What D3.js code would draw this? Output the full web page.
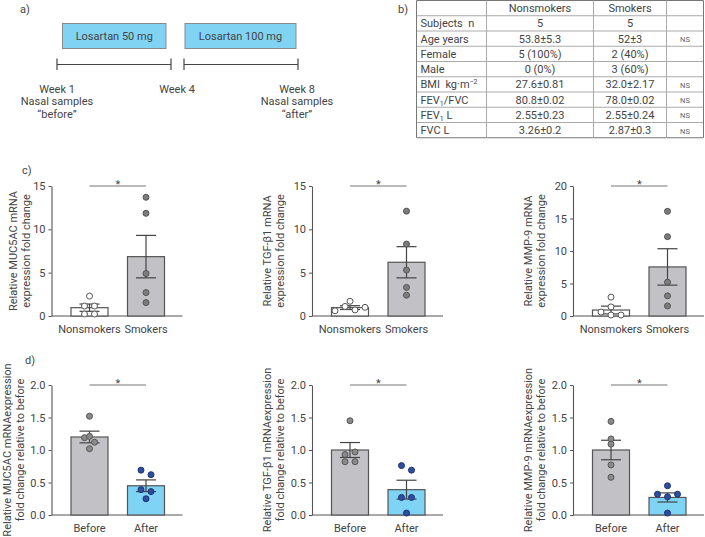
<!DOCTYPE html>
<html><head><meta charset="utf-8">
<script src="https://cdn.jsdelivr.net/npm/d3@7"></script>
<style>
body{margin:0;background:#fff;}
svg{display:block;font-family:Roboto,"Noto Sans",sans-serif;}
</style></head><body>
<svg id="c" width="705" height="537"></svg>
<script>
// ---------------- DATA ----------------
// panel a: timeline
const timelineWeeks = ["Week 1", "Week 4", "Week 8"];
const timelineSubLabels = [["Nasal samples", "\u201cbefore\u201d"], [], ["Nasal samples", "\u201cafter\u201d"]];
const treatments = ["Losartan 50 mg", "Losartan 100 mg"];

// panel b: table
const tableHeader = ["", "Nonsmokers", "Smokers", ""];
const tableRowLabels = ["Subjects  n", "Age years", "Female", "Male", "BMI  kg\u00b7m^\u22122", "FEV_1/FVC", "FEV_1 L", "FVC L"];
const tableNonsmokers = ["5", "53.8\u00b15.3", "5 (100%)", "0 (0%)", "27.6\u00b10.81", "80.8\u00b10.02", "2.55\u00b10.23", "3.26\u00b10.2"];
const tableSmokers = ["5", "52\u00b13", "2 (40%)", "3 (60%)", "32.0\u00b12.17", "78.0\u00b10.02", "2.55\u00b10.24", "2.87\u00b10.3"];
const tableSignificance = ["", "NS", "", "", "NS", "NS", "NS", "NS"];

// panels c, d: categories
const groupsSmoking = ["Nonsmokers", "Smokers"];
const groupsTreatment = ["Before", "After"];

// c) smokers vs nonsmokers
const muc5acSmokingMean = [0.96, 6.85];
const muc5acSmokingSem = [0.42, 2.45];
const muc5acSmokingPoints = [[2.3, 1.15, 1.15, 0.23, 0.23], [13.7, 11.85, 4.9, 2.7, 1.55]];

const tgfSmokingMean = [0.97, 6.2];
const tgfSmokingSem = [0.22, 1.8];
const tgfSmokingPoints = [[1.7, 0.6, 1.1, 0.7, 1.0], [12.1, 8.3, 5.3, 3.3, 2.4]];

const mmpSmokingMean = [0.92, 7.55];
const mmpSmokingSem = [0.6, 2.8];
const mmpSmokingPoints = [[2.9, 1.4, 0.6, 0.15, 0.15], [16.1, 12.2, 5.2, 3.1, 1.55]];

// d) before vs after losartan
const muc5acTreatMean = [1.2, 0.45];
const muc5acTreatSem = [0.09, 0.09];
const muc5acTreatPoints = [[1.52, 1.19, 1.21, 1.12, 1.02], [0.69, 0.62, 0.39, 0.36, 0.25]];

const tgfTreatMean = [1.0, 0.39];
const tgfTreatSem = [0.115, 0.145];
const tgfTreatPoints = [[1.45, 0.93, 0.97, 0.82, 0.82], [0.76, 0.69, 0.27, 0.27, 0.03]];

const mmpTreatMean = [1.0, 0.27];
const mmpTreatSem = [0.15, 0.07];
const mmpTreatPoints = [[1.44, 1.17, 1.09, 0.77, 0.58], [0.45, 0.32, 0.28, 0.32, 0.03]];

// axis ticks
const ticks15 = [0, 5, 10, 15];
const ticks20 = [0, 5, 10, 15, 20];
const ticks2 = [0, 0.5, 1.0, 1.5, 2.0];

// ---------------- DRAW ----------------
const svg = d3.select("#c");
const TXT = "#444";
const FS = 11;

// ---- panel a ----
const weekX = d3.scalePoint().domain(timelineWeeks).range([57, 297]);
svg.append("text").attr("x", 20).attr("y", 13).attr("font-size", FS).attr("fill", TXT).text("a)");
treatments.forEach((t, i) => {
  const xa = weekX(timelineWeeks[i]) + (i === 0 ? 5.5 : 8);
  const xb = weekX(timelineWeeks[i + 1]) - (i === 0 ? 11 : 1);
  svg.append("rect").attr("x", xa).attr("y", 23.5).attr("width", xb - xa).attr("height", 25)
    .attr("fill", "#80d3f3").attr("stroke", "#8a8a8a").attr("stroke-width", 1);
  svg.append("text").attr("x", (xa + xb) / 2).attr("y", 40).attr("text-anchor", "middle")
    .attr("font-size", FS).attr("fill", TXT).text(t);
});
const segs = [[weekX(timelineWeeks[0]), weekX(timelineWeeks[1]) - 6], [weekX(timelineWeeks[1]) + 7, weekX(timelineWeeks[2]) + 1]];
segs.forEach(([a, b]) => {
  const gl = svg.append("g").attr("stroke", "#444").attr("stroke-width", 1.2);
  gl.append("line").attr("x1", a).attr("x2", b).attr("y1", 64.5).attr("y2", 64.5);
  gl.append("line").attr("x1", a).attr("x2", a).attr("y1", 58.5).attr("y2", 70);
  gl.append("line").attr("x1", b).attr("x2", b).attr("y1", 58.5).attr("y2", 70);
});
timelineWeeks.forEach((w, i) => {
  const lines = [w].concat(timelineSubLabels[i]);
  lines.forEach((l, k) => {
    svg.append("text").attr("x", weekX(w)).attr("y", 92.5 + k * 12.5).attr("text-anchor", "middle")
      .attr("font-size", FS).attr("fill", TXT).text(l);
  });
});

// ---- panel b ----
svg.append("text").attr("x", 398).attr("y", 13).attr("font-size", FS).attr("fill", TXT).text("b)");
const colEdges = [416.5, 486.5, 593.5, 666.5, 703.5];
const tableTop = 0.5, rowH = 15.25;
const nRows = tableRowLabels.length + 1;
const tg = svg.append("g");
for (let r = 0; r <= nRows; r++) {
  tg.append("line").attr("x1", colEdges[0]).attr("x2", colEdges[4])
    .attr("y1", tableTop + r * rowH).attr("y2", tableTop + r * rowH)
    .attr("stroke", (r === 0 || r === nRows) ? "#777" : "#aaa").attr("stroke-width", 1);
}
colEdges.forEach((cx, i) => {
  tg.append("line").attr("x1", cx).attr("x2", cx).attr("y1", tableTop).attr("y2", tableTop + nRows * rowH)
    .attr("stroke", (i === 0 || i === 4) ? "#777" : "#aaa").attr("stroke-width", 1);
});
function richText(sel, str) {
  const parts = str.split(/(\^\S+|_\d)/).filter(s => s.length);
  let shift = 0;
  parts.forEach(p => {
    if (p[0] === "^") { sel.append("tspan").attr("font-size", 7).attr("dy", -4).text(p.slice(1)); shift = -4; }
    else if (p[0] === "_") { sel.append("tspan").attr("font-size", 7).attr("dy", 2.5).text(p.slice(1)); shift = 2.5; }
    else {
      const t = sel.append("tspan").text(p);
      if (shift) { t.attr("dy", -shift); shift = 0; }
    }
  });
}
const cellY = r => tableTop + r * rowH + rowH / 2 + 4;
const colMid = i => (colEdges[i] + colEdges[i + 1]) / 2;
tableHeader.forEach((h, i) => {
  if (h) tg.append("text").attr("x", colMid(i)).attr("y", cellY(0)).attr("text-anchor", "middle")
    .attr("font-size", FS).attr("fill", TXT).text(h);
});
tableRowLabels.forEach((lab, r) => {
  const t = tg.append("text").attr("x", colEdges[0] + 4).attr("y", cellY(r + 1))
    .attr("font-size", FS).attr("fill", TXT).style("white-space", "pre");
  richText(t, lab);
  tg.append("text").attr("x", colMid(1)).attr("y", cellY(r + 1)).attr("text-anchor", "middle")
    .attr("font-size", FS).attr("fill", TXT).text(tableNonsmokers[r]);
  tg.append("text").attr("x", colMid(2)).attr("y", cellY(r + 1)).attr("text-anchor", "middle")
    .attr("font-size", FS).attr("fill", TXT).text(tableSmokers[r]);
  if (tableSignificance[r]) tg.append("text").attr("x", colMid(3)).attr("y", cellY(r + 1) - 0.5)
    .attr("text-anchor", "middle").attr("font-size", 7.5).attr("fill", "#666").text(tableSignificance[r]);
});

// ---- panels c & d ----
const colX0 = [51.5, 312, 573];
const rowTop = {c: 186, d: 385};
const plotH = 130, plotW = 131, barW = 37;
const styleC = {fill: ["#ffffff", "#c2c2c6"], pt: ["#ffffff", "#7c7c7c"], ptStroke: ["#555", "#555"]};
const styleD = {fill: ["#c2c2c6", "#7fd3f5"], pt: ["#8a8a8a", "#2d4d9e"], ptStroke: ["#555", "#1f3572"]};

const panels = [
  {row: "c", col: 0, groups: groupsSmoking, mean: muc5acSmokingMean, sem: muc5acSmokingSem, pts: muc5acSmokingPoints, yMax: 15, ticks: ticks15, fmt: d3.format("d"), label: ["Relative MUC5AC mRNA", "expression fold change"], style: styleC, shift: 6, tag: "c)"},
  {row: "c", col: 1, groups: groupsSmoking, mean: tgfSmokingMean, sem: tgfSmokingSem, pts: tgfSmokingPoints, yMax: 15, ticks: ticks15, fmt: d3.format("d"), label: ["Relative TGF-\u03b21 mRNA", "expression fold change"], style: styleC, shift: 0},
  {row: "c", col: 2, groups: groupsSmoking, mean: mmpSmokingMean, sem: mmpSmokingSem, pts: mmpSmokingPoints, yMax: 20, ticks: ticks20, fmt: d3.format("d"), label: ["Relative MMP-9 mRNA", "expression fold change"], style: styleC, shift: 0},
  {row: "d", col: 0, groups: groupsTreatment, mean: muc5acTreatMean, sem: muc5acTreatSem, pts: muc5acTreatPoints, yMax: 2, ticks: ticks2, fmt: d3.format(".1f"), label: ["Relative MUC5AC mRNAexpression", "fold change relative to before"], style: styleD, shift: 0, tag: "d)"},
  {row: "d", col: 1, groups: groupsTreatment, mean: tgfTreatMean, sem: tgfTreatSem, pts: tgfTreatPoints, yMax: 2, ticks: ticks2, fmt: d3.format(".1f"), label: ["Relative TGF-\u03b21 mRNAexpression", "fold change relative to before"], style: styleD, shift: 0},
  {row: "d", col: 2, groups: groupsTreatment, mean: mmpTreatMean, sem: mmpTreatSem, pts: mmpTreatPoints, yMax: 2, ticks: ticks2, fmt: d3.format(".1f"), label: ["Relative MMP-9 mRNAexpression", "fold change relative to before"], style: styleD, shift: 0}
];

function dodge(vals, y) {
  const idx = vals.map((v, i) => i).sort((a, b) => vals[a] - vals[b]);
  const rows = []; let cur = null, start = null;
  idx.forEach(i => {
    const py = y(vals[i]);
    if (cur && Math.abs(start - py) < 5) cur.push(i);
    else { cur = [i]; start = py; rows.push(cur); }
  });
  const off = new Array(vals.length).fill(0);
  rows.forEach(r => {
    r.sort((a, b) => a - b);
    const n = r.length;
    r.forEach((i, k) => off[i] = (k - (n - 1) / 2) * 10);
  });
  return off;
}

panels.forEach(p => {
  const x0 = colX0[p.col], yTop = rowTop[p.row], yBot = yTop + plotH;
  const y = d3.scaleLinear().domain([0, p.yMax]).range([yBot, yTop]);
  const x = d3.scalePoint().domain(p.groups).range([x0 + 38, x0 + 94.5]);
  const g = svg.append("g");

  const ax = g.append("g").attr("transform", `translate(${x0},0)`)
    .call(d3.axisLeft(y).tickValues(p.ticks).tickFormat(p.fmt).tickSize(3).tickSizeOuter(0).tickPadding(3));
  ax.select(".domain").attr("stroke", "#555").attr("stroke-width", 1.1);
  ax.selectAll(".tick line").attr("stroke", "#555");
  ax.selectAll(".tick text").attr("fill", TXT).attr("font-size", FS).attr("font-family", "Roboto");

  g.append("line").attr("x1", x0).attr("x2", x0 + plotW).attr("y1", yBot).attr("y2", yBot)
    .attr("stroke", "#555").attr("stroke-width", 1.1);

  // bars
  g.selectAll(".bar").data(p.groups).join("rect")
    .attr("x", d => x(d) - barW / 2).attr("width", barW)
    .attr("y", (d, i) => y(p.mean[i])).attr("height", (d, i) => yBot - y(p.mean[i]))
    .attr("fill", (d, i) => p.style.fill[i]).attr("stroke", "#555").attr("stroke-width", 1.2);

  // error bars (mean ± SEM)
  p.groups.forEach((grp, i) => {
    const cx = x(grp), lo = y(p.mean[i] - p.sem[i]), hi = y(p.mean[i] + p.sem[i]);
    const eg = g.append("g").attr("stroke", "#444").attr("stroke-width", 1.2);
    eg.append("line").attr("x1", cx).attr("x2", cx).attr("y1", lo).attr("y2", hi);
    eg.append("line").attr("x1", cx - 10).attr("x2", cx + 10).attr("y1", lo).attr("y2", lo);
    eg.append("line").attr("x1", cx - 10).attr("x2", cx + 10).attr("y1", hi).attr("y2", hi);
  });

  // individual points
  p.groups.forEach((grp, i) => {
    const off = dodge(p.pts[i], y);
    g.selectAll(null).data(p.pts[i]).join("circle")
      .attr("cx", (d, k) => x(grp) + off[k]).attr("cy", d => y(d)).attr("r", 3)
      .attr("fill", p.style.pt[i]).attr("stroke", p.style.ptStroke[i]).attr("stroke-width", 1);
  });

  // significance bracket
  const sy = y(p.yMax);
  g.append("line").attr("x1", x(p.groups[0])).attr("x2", x(p.groups[1])).attr("y1", sy).attr("y2", sy)
    .attr("stroke", "#777").attr("stroke-width", 1.2);
  g.append("text").attr("x", (x(p.groups[0]) + x(p.groups[1])) / 2).attr("y", sy + 1.5)
    .attr("text-anchor", "middle").attr("font-size", 11).attr("fill", TXT).text("*");

  // x labels
  p.groups.forEach(grp => {
    g.append("text").attr("x", x(grp)).attr("y", yBot + 17).attr("text-anchor", "middle")
      .attr("font-size", FS).attr("fill", TXT).text(grp);
  });

  // y label
  p.label.forEach((l, k) => {
    g.append("text").attr("transform", `translate(${x0 - 41 + k * 13 + p.shift},${(yTop + yBot) / 2}) rotate(-90)`)
      .attr("text-anchor", "middle").attr("font-size", FS).attr("fill", TXT).text(l);
  });

  if (p.tag) {
    g.append("text").attr("x", p.row === "c" ? 22 : 25).attr("y", p.row === "c" ? 174 : 364)
      .attr("font-size", FS).attr("fill", TXT).text(p.tag);
  }
});
</script>
</body></html>
